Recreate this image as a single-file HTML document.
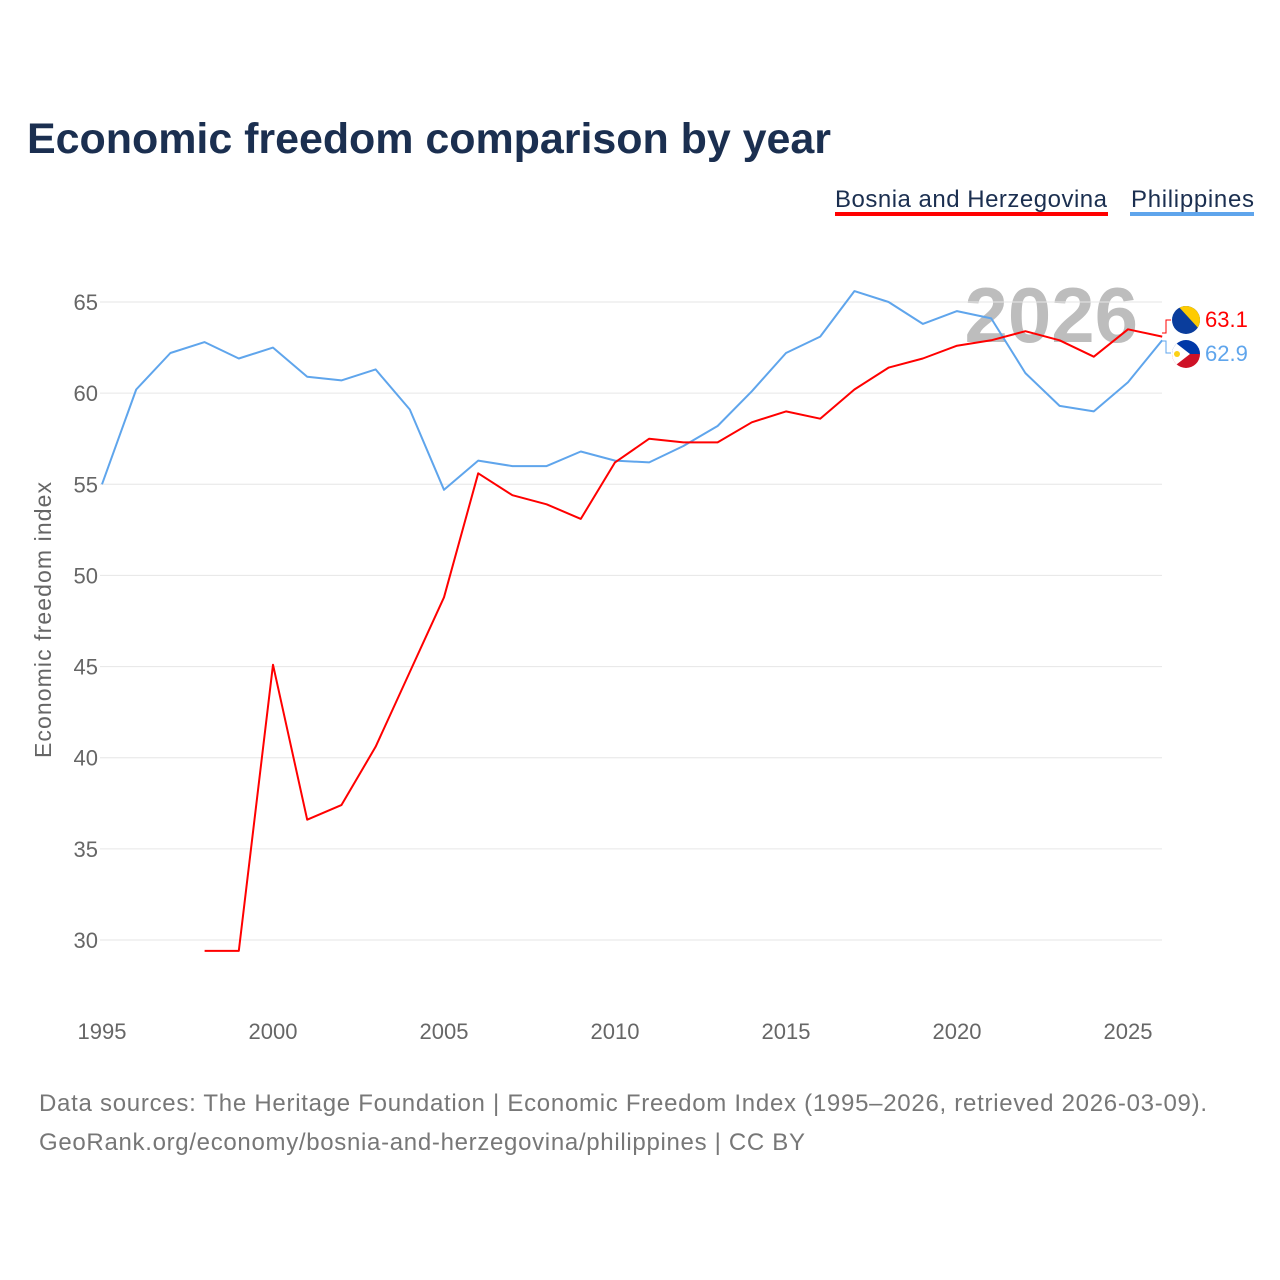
<!DOCTYPE html>
<html><head><meta charset="utf-8"><style>
html,body{margin:0;padding:0;background:#fff;width:1280px;height:1280px;overflow:hidden}
svg text{font-family:"Liberation Sans",sans-serif}
</style></head><body>
<svg id="chart" width="1280" height="1280" viewBox="0 0 1280 1280" xmlns="http://www.w3.org/2000/svg">
<text x="27" y="153" font-size="43" font-weight="bold" fill="#1b2f50" textLength="804">Economic freedom comparison by year</text>
<g>
<text x="1107" y="207" font-size="24" fill="#1b2f50" text-anchor="end" textLength="272">Bosnia and Herzegovina</text>
<rect x="835" y="212" width="273" height="4" fill="#ff0000"/>
<text x="1254" y="207" font-size="24" fill="#1b2f50" text-anchor="end" textLength="123">Philippines</text>
<rect x="1130" y="212" width="124" height="4" fill="#5fa5ec"/>
</g>
<text x="1138" y="342" font-size="78" font-weight="bold" fill="#bdbdbd" text-anchor="end">2026</text>
<g id="grid"></g><g id="axes"></g><g id="lines"></g>
<text transform="translate(51,620) rotate(-90)" font-size="23" fill="#666" text-anchor="middle" textLength="276">Economic freedom index</text>
<g>
<path d="M1162 333 L1166 333 L1166 320 L1171 320" stroke="#ff0000" fill="none" stroke-width="1"/>
<path d="M1162 341 L1166 341 L1166 353 L1171 353" stroke="#5fa5ec" fill="none" stroke-width="1"/>
<g>
<clipPath id="c1"><circle cx="1186" cy="320" r="14"/></clipPath>
<g clip-path="url(#c1)"><rect x="1172" y="306" width="28" height="28" fill="#0a3d9c"/><polygon points="1178,306 1200,306 1200,330" fill="#fecb00"/></g>
</g>
<g>
<clipPath id="c2"><circle cx="1186" cy="354" r="14"/></clipPath>
<g clip-path="url(#c2)"><rect x="1172" y="340" width="28" height="14" fill="#0038a8"/><rect x="1172" y="354" width="28" height="14" fill="#ce1126"/><polygon points="1172,340 1190,354 1172,368" fill="#fff"/><circle cx="1177" cy="354" r="3" fill="#fcd116"/></g>
</g>
<text x="1205" y="327" font-size="22" fill="#ff0000">63.1</text>
<text x="1205" y="361" font-size="22" fill="#5fa5ec">62.9</text>
</g>
<text x="39" y="1111" font-size="24" fill="#777" textLength="1168">Data sources: The Heritage Foundation | Economic Freedom Index (1995–2026, retrieved 2026-03-09).</text>
<text x="39" y="1150" font-size="24" fill="#777" textLength="766">GeoRank.org/economy/bosnia-and-herzegovina/philippines | CC BY</text>
</svg>
<script>
const years=[1995,1996,1997,1998,1999,2000,2001,2002,2003,2004,2005,2006,2007,2008,2009,2010,2011,2012,2013,2014,2015,2016,2017,2018,2019,2020,2021,2022,2023,2024,2025,2026];
const philippines=[55.0,60.2,62.2,62.8,61.9,62.5,60.9,60.7,61.3,59.1,54.7,56.3,56.0,56.0,56.8,56.3,56.2,57.1,58.2,60.1,62.2,63.1,65.6,65.0,63.8,64.5,64.1,61.1,59.3,59.0,60.6,62.9];
const bosnia=[null,null,null,29.4,29.4,45.1,36.6,37.4,40.6,44.7,48.8,55.6,54.4,53.9,53.1,56.2,57.5,57.3,57.3,58.4,59.0,58.6,60.2,61.4,61.9,62.6,62.9,63.4,62.9,62.0,63.5,63.1];
const yTicks=[30,35,40,45,50,55,60,65];
const xTicks=[1995,2000,2005,2010,2015,2020,2025];
const NS='http://www.w3.org/2000/svg';
const X=y=>102+(y-1995)*(1128-102)/30;
const Y=v=>302+(65-v)*(940-302)/35;
function mk(tag,attrs,parent,txt){const e=document.createElementNS(NS,tag);for(const k in attrs)e.setAttribute(k,attrs[k]);if(txt!==undefined)e.textContent=txt;document.getElementById(parent).appendChild(e);return e;}
yTicks.forEach(t=>{
 const l=mk('line',{x1:100,x2:1162,y1:Y(t),y2:Y(t),stroke:'#e6e6e6','stroke-width':1},'grid');
 
 
 const tx=mk('text',{x:98,y:Y(t)+8,'font-size':22,fill:'#666','text-anchor':'end'},'axes',t);
 
 
});
xTicks.forEach(t=>{
 const tx=mk('text',{x:X(t),y:1039,'font-size':22,fill:'#666','text-anchor':'middle'},'axes',t);
 
 
});
function path(vals){let d='',pen=false;vals.forEach((v,i)=>{if(v==null){pen=false;return;}d+=(pen?'L':'M')+X(years[i]).toFixed(1)+' '+Y(v).toFixed(1)+' ';pen=true;});return d;}
const p1=mk('path',{d:path(philippines),fill:'none',stroke:'#5fa5ec','stroke-width':2,'stroke-linejoin':'round'},'lines');


const p2=mk('path',{d:path(bosnia),fill:'none',stroke:'#ff0000','stroke-width':2,'stroke-linejoin':'round'},'lines');


</script>
</body></html>
